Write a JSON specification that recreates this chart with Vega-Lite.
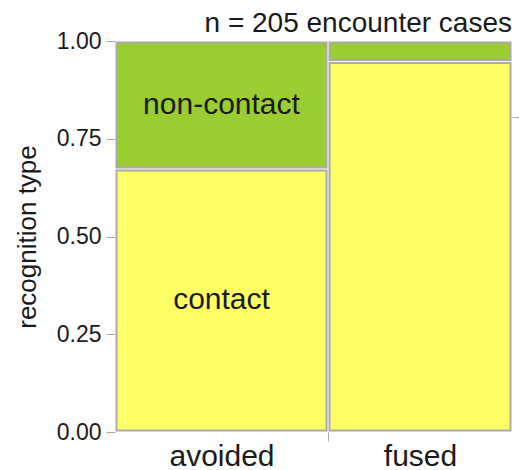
{
  "$schema": "https://vega.github.io/schema/vega-lite/v6.json",
  "width": 397,
  "height": 391,
  "autosize": {"type": "none"},
  "padding": {"left": 115, "top": 41, "right": 7, "bottom": 38},
  "config": {
    "view": {"stroke": null},
    "font": "Liberation Sans",
    "title": {"fontSize": 28, "font": "Liberation Sans"},
    "axis": {"labelFont": "Liberation Sans", "titleFont": "Liberation Sans"}
  },
  "title": {
    "text": "n = 205 encounter cases",
    "anchor": "end",
    "frame": "group",
    "fontSize": 28,
    "fontWeight": "normal",
    "color": "#1a1a1a",
    "offset": -8
  },
  "data": {
    "values": [
      {"outcome": "avoided", "recognition": "contact", "count": 74},
      {"outcome": "avoided", "recognition": "non-contact", "count": 36},
      {"outcome": "fused", "recognition": "contact", "count": 90},
      {"outcome": "fused", "recognition": "non-contact", "count": 5}
    ]
  },
  "transform": [
    {"stack": "count", "groupby": [], "sort": [{"field": "outcome"}, {"field": "recognition"}], "as": ["sx0", "sx1"]},
    {"joinaggregate": [{"op": "min", "field": "sx0", "as": "x0"}, {"op": "max", "field": "sx1", "as": "x1"}], "groupby": ["outcome"]},
    {"stack": "count", "groupby": ["outcome"], "sort": [{"field": "recognition"}], "offset": "normalize", "as": ["y0", "y1"]}
  ],
  "layer": [
    {
      "mark": {"type": "rect", "stroke": "#aaaaaa", "strokeWidth": 2, "xOffset": 1.5, "x2Offset": -1.5, "yOffset": 1.5, "y2Offset": -1.5},
      "encoding": {
        "x": {
          "field": "x0", "type": "quantitative",
          "scale": {"domain": [0, 205], "nice": false, "zero": true},
          "axis": {
            "title": null,
            "values": [55, 110, 157.5],
            "labelExpr": "datum.value == 110 ? '' : (datum.value < 110 ? 'avoided' : 'fused')",
            "tickOpacity": {"condition": {"test": "datum.value == 110", "value": 1}, "value": 0},
            "tickColor": "#aaaaaa",
            "tickSize": 9,
            "domain": false,
            "grid": false,
            "labelFontSize": 30,
            "labelColor": "#1a1a1a",
            "labelPadding": 0
          }
        },
        "x2": {"field": "x1"},
        "y": {
          "field": "y1", "type": "quantitative",
          "scale": {"domain": [0, 1], "nice": false},
          "axis": {
            "orient": "left",
            "title": "recognition type",
            "titleFontSize": 26,
            "titleFontWeight": "normal",
            "titleColor": "#1a1a1a",
            "titlePadding": 16,
            "values": [0, 0.25, 0.5, 0.75, 1],
            "format": ".2f",
            "domain": false,
            "grid": false,
            "tickColor": "#aaaaaa",
            "tickSize": 9,
            "labelFontSize": 23,
            "labelColor": "#1a1a1a",
            "labelPadding": 5
          }
        },
        "y2": {"field": "y0"},
        "color": {
          "field": "recognition", "type": "nominal",
          "scale": {"domain": ["contact", "non-contact"], "range": ["#ffff66", "#9acd32"]},
          "legend": null
        }
      }
    },
    {
      "mark": {"type": "rect", "opacity": 0},
      "encoding": {
        "x": {"field": "x0", "type": "quantitative"},
        "x2": {"field": "x1"},
        "y": {
          "field": "y1", "type": "quantitative",
          "axis": {
            "orient": "right",
            "title": null,
            "values": [0.806],
            "labels": false,
            "domain": false,
            "grid": false,
            "tickColor": "#aaaaaa",
            "tickSize": 7
          }
        },
        "y2": {"field": "y0"}
      }
    },
    {
      "transform": [
        {"filter": {"field": "outcome", "equal": "avoided"}},
        {"fold": ["x0", "x1"], "as": ["kx", "vx"]},
        {"aggregate": [{"op": "mean", "field": "vx", "as": "xm"}], "groupby": ["outcome", "recognition", "y0", "y1"]},
        {"fold": ["y0", "y1"], "as": ["ky", "vy"]},
        {"aggregate": [{"op": "mean", "field": "vy", "as": "ym"}], "groupby": ["outcome", "recognition", "xm"]}
      ],
      "mark": {"type": "text", "fontSize": 30, "color": "#1a1a1a", "align": "center", "baseline": "middle"},
      "encoding": {
        "x": {"field": "xm", "type": "quantitative"},
        "y": {"field": "ym", "type": "quantitative", "axis": null},
        "text": {"field": "recognition"}
      }
    }
  ],
  "resolve": {"axis": {"y": "independent"}}
}
